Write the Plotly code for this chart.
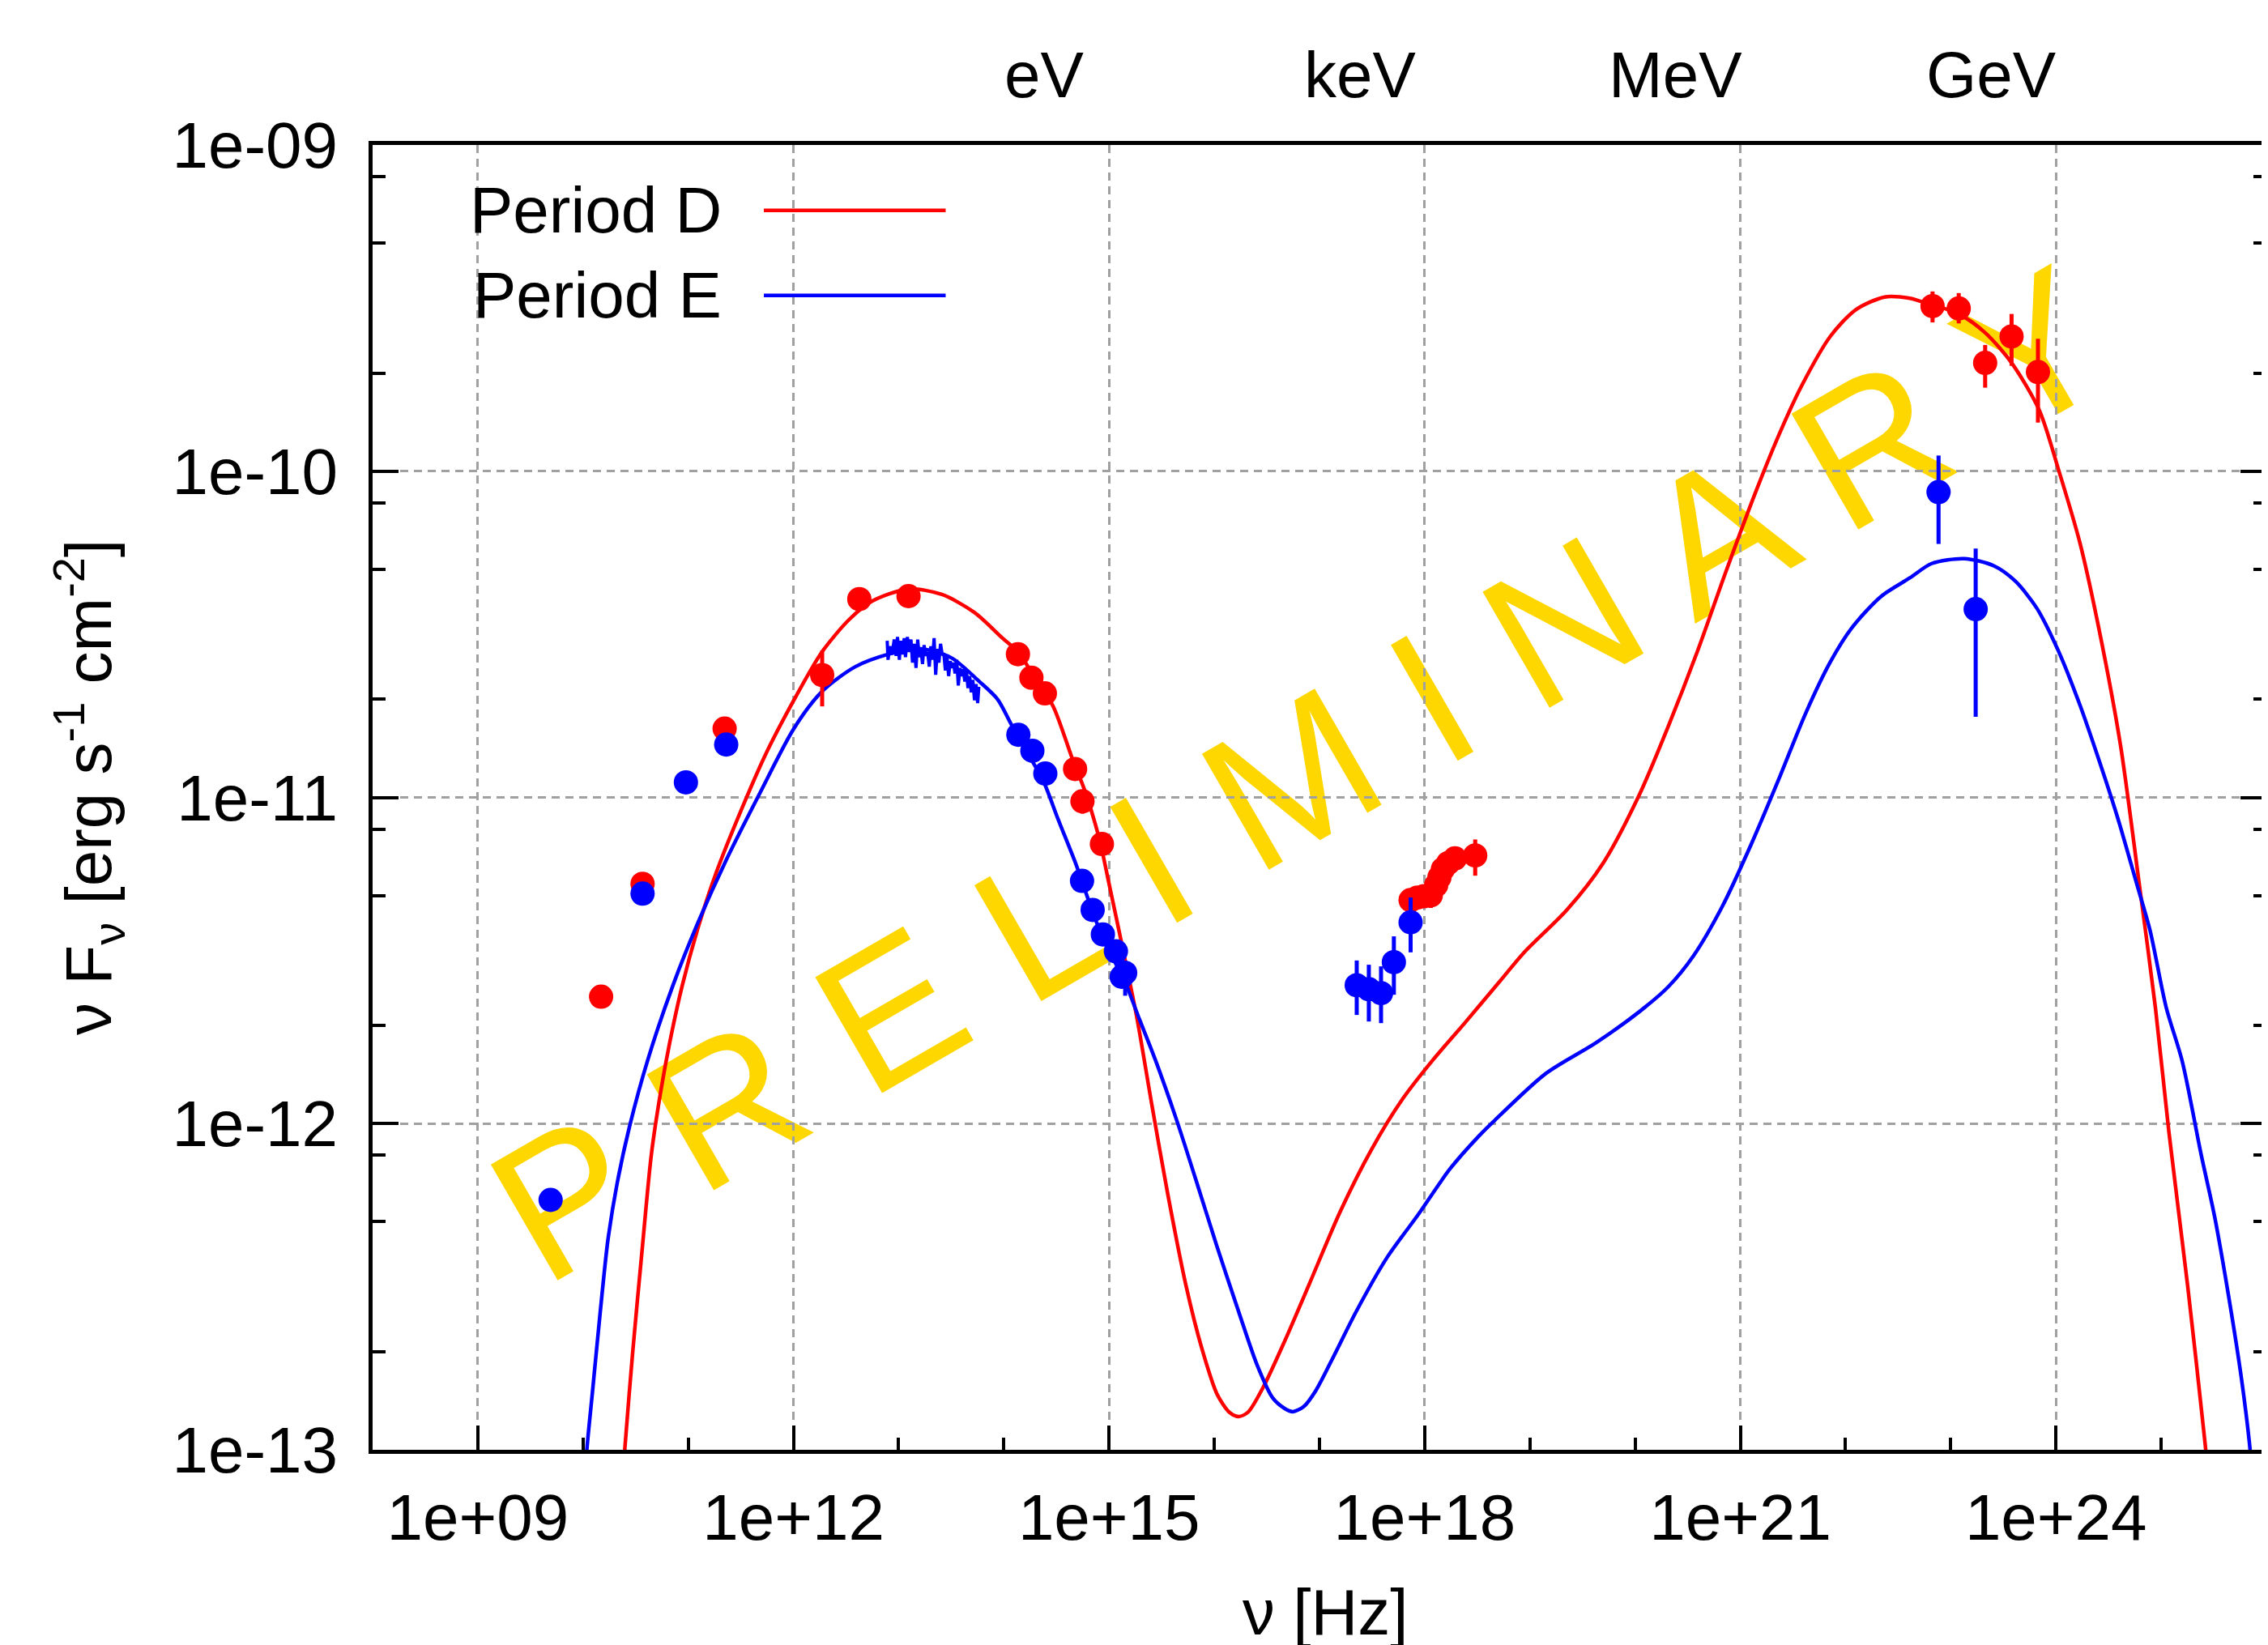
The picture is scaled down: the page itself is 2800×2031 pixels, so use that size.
import numpy as np
import plotly.graph_objects as go

# ---------------- data (log10 values) ----------------
# Model curves: log10(nu [Hz]), log10(nuFnu [erg/s/cm2])
RED_MODEL_LOGNU = [10.38, 10.399, 10.472, 10.561, 10.649, 10.737, 10.825, 10.943, 11.090, 11.267, 11.502,
                   11.737, 12.002, 12.267, 12.529, 12.750, 13.094, 13.411, 13.720, 13.985, 14.138, 14.293,
                   14.469, 14.646, 14.778, 14.910, 14.998, 15.114, 15.262, 15.409, 15.555, 15.732, 15.879,
                   16.026, 16.144, 16.231, 16.320, 16.467, 16.673, 16.908, 17.201, 17.495, 17.789, 18.083,
                   18.377, 18.724, 18.943, 19.354, 19.697, 20.040, 20.314, 20.589, 20.863, 21.137, 21.377,
                   21.583, 21.857, 22.098, 22.372, 22.612, 22.692, 23.076, 23.332, 23.587, 23.844, 24.023,
                   24.228, 24.407, 24.612, 24.791, 24.945, 25.073, 25.252, 25.419, 25.44]
RED_MODEL_LOGF = [-13.08, -12.990, -12.701, -12.390, -12.096, -11.905, -11.750, -11.577, -11.403, -11.230, -11.040,
                  -10.867, -10.703, -10.556, -10.455, -10.398, -10.361, -10.378, -10.433, -10.511, -10.555, -10.633,
                  -10.721, -10.877, -10.987, -11.131, -11.262, -11.439, -11.671, -11.947, -12.211, -12.498, -12.686,
                  -12.829, -12.885, -12.898, -12.885, -12.807, -12.664, -12.488, -12.267, -12.079, -11.925, -11.803,
                  -11.693, -11.560, -11.476, -11.344, -11.201, -10.992, -10.783, -10.555, -10.308, -10.071, -9.881,
                  -9.738, -9.586, -9.505, -9.466, -9.470, -9.477, -9.518, -9.577, -9.672, -9.815, -9.994,
                  -10.220, -10.481, -10.837, -11.264, -11.644, -12.024, -12.498, -12.985, -13.06]

BLUE_MODEL_LOGNU = [10.02, 10.039, 10.090, 10.163, 10.237, 10.325, 10.442, 10.619, 10.854, 11.090, 11.355,
                    11.679, 12.002, 12.267, 12.585, 12.904, 13.191, 13.500, 13.764, 13.940, 14.072, 14.249,
                    14.381, 14.513, 14.690, 14.822, 14.954, 15.144, 15.291, 15.438, 15.644, 15.820, 16.026,
                    16.231, 16.408, 16.555, 16.672, 16.746, 16.849, 16.966, 17.143, 17.349, 17.643, 17.936,
                    18.240, 18.524, 18.669, 19.149, 19.629, 20.040, 20.314, 20.554, 20.829, 21.103, 21.377,
                    21.617, 21.857, 22.063, 22.337, 22.612, 22.819, 23.127, 23.408, 23.613, 23.818, 24.023,
                    24.228, 24.407, 24.586, 24.766, 24.893, 25.047, 25.201, 25.380, 25.508, 25.662, 25.764,
                    25.841, 25.86]
BLUE_MODEL_LOGF = [-13.08, -12.990, -12.822, -12.580, -12.356, -12.182, -12.009, -11.801, -11.577, -11.386, -11.196,
                   -10.988, -10.790, -10.677, -10.600, -10.561, -10.544, -10.572, -10.644, -10.699, -10.777, -10.877,
                   -10.954, -11.065, -11.209, -11.331, -11.442, -11.560, -11.682, -11.803, -11.991, -12.167, -12.377,
                   -12.576, -12.741, -12.841, -12.874, -12.883, -12.868, -12.818, -12.708, -12.576, -12.410, -12.280,
                   -12.139, -12.035, -11.989, -11.847, -11.752, -11.657, -11.581, -11.486, -11.334, -11.144, -10.935,
                   -10.745, -10.584, -10.479, -10.384, -10.327, -10.283, -10.268, -10.290, -10.337, -10.420, -10.551,
                   -10.717, -10.884, -11.062, -11.263, -11.406, -11.643, -11.810, -12.095, -12.285, -12.570, -12.784,
                   -12.986, -13.06]

# Observed data, Period D (red)
RED_LOGNU = [10.172, 10.566, 11.346, 12.273, 12.626, 13.094, 14.134, 14.262, 14.390, 14.677, 14.747, 14.932,
             17.866, 17.930, 17.994, 18.058, 18.109, 18.140, 18.173, 18.224, 18.288, 18.480,
             22.827, 23.076, 23.327, 23.578, 23.829]
RED_LOGF = [-11.611, -11.265, -10.789, -10.625, -10.392, -10.383, -10.561, -10.633, -10.681, -10.913, -11.012, -11.143,
            -11.315, -11.307, -11.303, -11.300, -11.269, -11.245, -11.220, -11.201, -11.187, -11.178,
            -9.494, -9.501, -9.668, -9.587, -9.696]
RED_LOGF_HI = [-11.611, -11.265, -10.789, -10.550, -10.365, -10.355, -10.561, -10.633, -10.681, -10.913, -10.995, -11.143,
               -11.315, -11.307, -11.303, -11.275, -11.269, -11.245, -11.220, -11.201, -11.187, -11.129,
               -9.449, -9.454, -9.613, -9.518, -9.594]
RED_LOGF_LO = [-11.611, -11.265, -10.789, -10.721, -10.420, -10.410, -10.561, -10.633, -10.681, -10.913, -11.050, -11.143,
               -11.315, -11.307, -11.303, -11.339, -11.269, -11.245, -11.220, -11.201, -11.187, -11.240,
               -9.544, -9.547, -9.744, -9.677, -9.851]

# Observed data, Period E (blue)
BLUE_LOGNU = [9.692, 10.566, 10.978, 11.361, 14.138, 14.271, 14.394, 14.743, 14.844, 14.941, 15.065, 15.120, 15.153,
              17.354, 17.469, 17.585, 17.707, 17.866, 22.884, 23.237]
BLUE_LOGF = [-12.234, -11.295, -10.954, -10.838, -10.808, -10.857, -10.927, -11.256, -11.345, -11.420, -11.472, -11.550, -11.538,
             -11.576, -11.588, -11.600, -11.505, -11.383, -10.064, -10.423]
BLUE_LOGF_HI = [-12.234, -11.295, -10.954, -10.838, -10.808, -10.857, -10.927, -11.256, -11.345, -11.420, -11.472, -11.550, -11.500,
                -11.500, -11.513, -11.518, -11.426, -11.307, -9.952, -10.237]
BLUE_LOGF_LO = [-12.234, -11.295, -10.954, -10.838, -10.808, -10.857, -10.927, -11.256, -11.345, -11.420, -11.472, -11.550, -11.608,
                -11.667, -11.687, -11.692, -11.605, -11.475, -10.223, -10.753]

# Infrared spectrum, Period E (blue, dense)
IR_LOGNU = [12.891, 12.899, 12.917, 12.937, 12.958, 12.976, 12.989, 13.007, 13.019, 13.035, 13.053, 13.065,
            13.083, 13.099, 13.117, 13.132, 13.147, 13.165, 13.181, 13.196, 13.211, 13.227, 13.242, 13.257,
            13.275, 13.291, 13.306, 13.321, 13.337, 13.352, 13.368, 13.383, 13.398, 13.414, 13.429, 13.444,
            13.460, 13.475, 13.490, 13.506, 13.521, 13.536, 13.552, 13.567, 13.583, 13.598, 13.613, 13.629,
            13.644, 13.659, 13.675, 13.690, 13.705, 13.721, 13.736, 13.751, 13.762]
IR_LOGF = [-10.520, -10.578, -10.537, -10.562, -10.516, -10.566, -10.508, -10.578, -10.520, -10.562, -10.512, -10.570,
           -10.508, -10.554, -10.516, -10.587, -10.529, -10.603, -10.516, -10.570, -10.545, -10.591, -10.533, -10.566,
           -10.554, -10.599, -10.537, -10.578, -10.512, -10.624, -10.545, -10.587, -10.529, -10.562, -10.558, -10.611,
           -10.570, -10.628, -10.582, -10.603, -10.587, -10.620, -10.578, -10.657, -10.603, -10.628, -10.607, -10.645,
           -10.611, -10.665, -10.628, -10.678, -10.640, -10.702, -10.653, -10.711, -10.661]

# Axis ticks
X_TICKS = [1e9, 1e12, 1e15, 1e18, 1e21, 1e24]
X_TICKTEXT = ["1e+09", "1e+12", "1e+15", "1e+18", "1e+21", "1e+24"]
X_MINOR = [1e10, 1e11, 1e13, 1e14, 1e16, 1e17, 1e19, 1e20, 1e22, 1e23, 1e25]
Y_TICKS = [1e-13, 1e-12, 1e-11, 1e-10, 1e-9]
Y_TICKTEXT = ["1e-13", "1e-12", "1e-11", "1e-10", "1e-09"]
Y_MINOR_MANTISSA = [2, 5, 8]

# Energy labels on the top axis
TOP_LABELS = ["eV", "keV", "MeV", "GeV"]
TOP_FREQ = [2.418e14, 2.418e17, 2.418e20, 2.418e23]

SERIES_NAMES = ["Period D", "Period E"]
RED = "#ff0000"
BLUE = "#0000ff"
GOLD = "#FFD700"
FONT = "Liberation Sans, Arial, sans-serif"


def lin(a):
    return [10 ** v for v in a]


def errs(val, hi, lo):
    plus = [10 ** h - 10 ** v for v, h in zip(val, hi)]
    minus = [10 ** v - 10 ** l for v, l in zip(val, lo)]
    return plus, minus


fig = go.Figure()

fig.add_trace(go.Scatter(x=lin(RED_MODEL_LOGNU), y=lin(RED_MODEL_LOGF), mode="lines",
                         line=dict(color=RED, width=4.5, shape="spline", smoothing=0.8), showlegend=False))
fig.add_trace(go.Scatter(x=lin(BLUE_MODEL_LOGNU), y=lin(BLUE_MODEL_LOGF), mode="lines",
                         line=dict(color=BLUE, width=4.5, shape="spline", smoothing=0.8), showlegend=False))

rp, rm = errs(RED_LOGF, RED_LOGF_HI, RED_LOGF_LO)
fig.add_trace(go.Scatter(x=lin(RED_LOGNU), y=lin(RED_LOGF), mode="markers",
                         marker=dict(color=RED, size=30),
                         error_y=dict(type="data", array=rp, arrayminus=rm, color=RED, thickness=5, width=0),
                         showlegend=False))
fig.add_trace(go.Scatter(x=lin(IR_LOGNU), y=lin(IR_LOGF), mode="lines",
                         line=dict(color=BLUE, width=4), showlegend=False))
bp, bm = errs(BLUE_LOGF, BLUE_LOGF_HI, BLUE_LOGF_LO)
fig.add_trace(go.Scatter(x=lin(BLUE_LOGNU), y=lin(BLUE_LOGF), mode="markers",
                         marker=dict(color=BLUE, size=30),
                         error_y=dict(type="data", array=bp, arrayminus=bm, color=BLUE, thickness=5, width=0),
                         showlegend=False))

y_minor = [m * d for d in [1e-13, 1e-12, 1e-11, 1e-10] for m in Y_MINOR_MANTISSA]

fig.update_xaxes(type="log", range=[8, 26], tickvals=X_TICKS, ticktext=X_TICKTEXT,
                 ticks="inside", ticklen=30, tickwidth=4, tickcolor="black",
                 showline=True, linecolor="black", linewidth=5, mirror=True,
                 showgrid=True, gridcolor="#a0a0a0", gridwidth=3, griddash="10px,7px",
                 zeroline=False, tickfont=dict(family=FONT, size=80, color="black"),
                 ticklabelstandoff=10,
                 minor=dict(tickvals=X_MINOR, ticks="inside", ticklen=15, tickwidth=4,
                            tickcolor="black", showgrid=False))
fig.update_yaxes(type="log", range=[-13, -9], tickvals=Y_TICKS, ticktext=Y_TICKTEXT,
                 ticks="inside", ticklen=32, tickwidth=4, tickcolor="black",
                 showline=True, linecolor="black", linewidth=5, mirror="allticks",
                 showgrid=True, gridcolor="#a0a0a0", gridwidth=3, griddash="10px,7px",
                 zeroline=False, tickfont=dict(family=FONT, size=80, color="black"),
                 ticklabelstandoff=22,
                 minor=dict(tickvals=y_minor, ticks="inside", ticklen=16, tickwidth=4,
                            tickcolor="black", showgrid=False))

annotations = []
for lab, fr in zip(TOP_LABELS, TOP_FREQ):
    annotations.append(dict(x=np.log10(fr), y=1.054, xref="x", yref="paper", text=lab, showarrow=False,
                            xanchor="center", yanchor="middle",
                            font=dict(family=FONT, size=80, color="black")))
annotations.append(dict(x=0.5028, y=-0.1242, xref="paper", yref="paper", text="ν [Hz]", showarrow=False,
                        xanchor="center", yanchor="middle", font=dict(family=FONT, size=80, color="black")))
annotations.append(dict(x=-0.150, y=0.508, xref="paper", yref="paper",
                        text="ν F<sub>ν</sub> [erg s<sup>-1</sup> cm<sup>-2</sup>]",
                        showarrow=False, textangle=-90, xanchor="center", yanchor="middle",
                        font=dict(family=FONT, size=80, color="black")))
# legend (gnuplot style: text then line sample)
legend_y = [0.9498, 0.8847]
for name, col, ly in zip(SERIES_NAMES, [RED, BLUE], legend_y):
    annotations.append(dict(x=0.1854, y=ly, xref="paper", yref="paper", text=name, showarrow=False,
                            xanchor="right", yanchor="middle", font=dict(family=FONT, size=80, color="black")))

shapes = []
for col, ly in zip([RED, BLUE], legend_y):
    shapes.append(dict(type="line", xref="paper", yref="paper", x0=0.2066, x1=0.3026, y0=ly, y1=ly,
                       line=dict(color=col, width=4.5)))
# watermark drawn beneath the data
cx, cy = 0.4845, 0.530
shapes.append(dict(type="rect", xref="paper", yref="paper", x0=cx - 0.3, x1=cx + 0.3, y0=cy - 0.3, y1=cy + 0.3,
                   line=dict(width=0), fillcolor="rgba(0,0,0,0)", layer="between",
                   label=dict(text="P R E L I M I N A R Y", textangle=-30, textposition="middle center",
                              font=dict(family=FONT, size=240, color=GOLD))))

fig.update_layout(width=2800, height=2031, margin=dict(l=452, r=5, t=171, b=249),
                  paper_bgcolor="white", plot_bgcolor="white",
                  annotations=annotations, shapes=shapes, showlegend=False)

fig.write_html("out.html")
